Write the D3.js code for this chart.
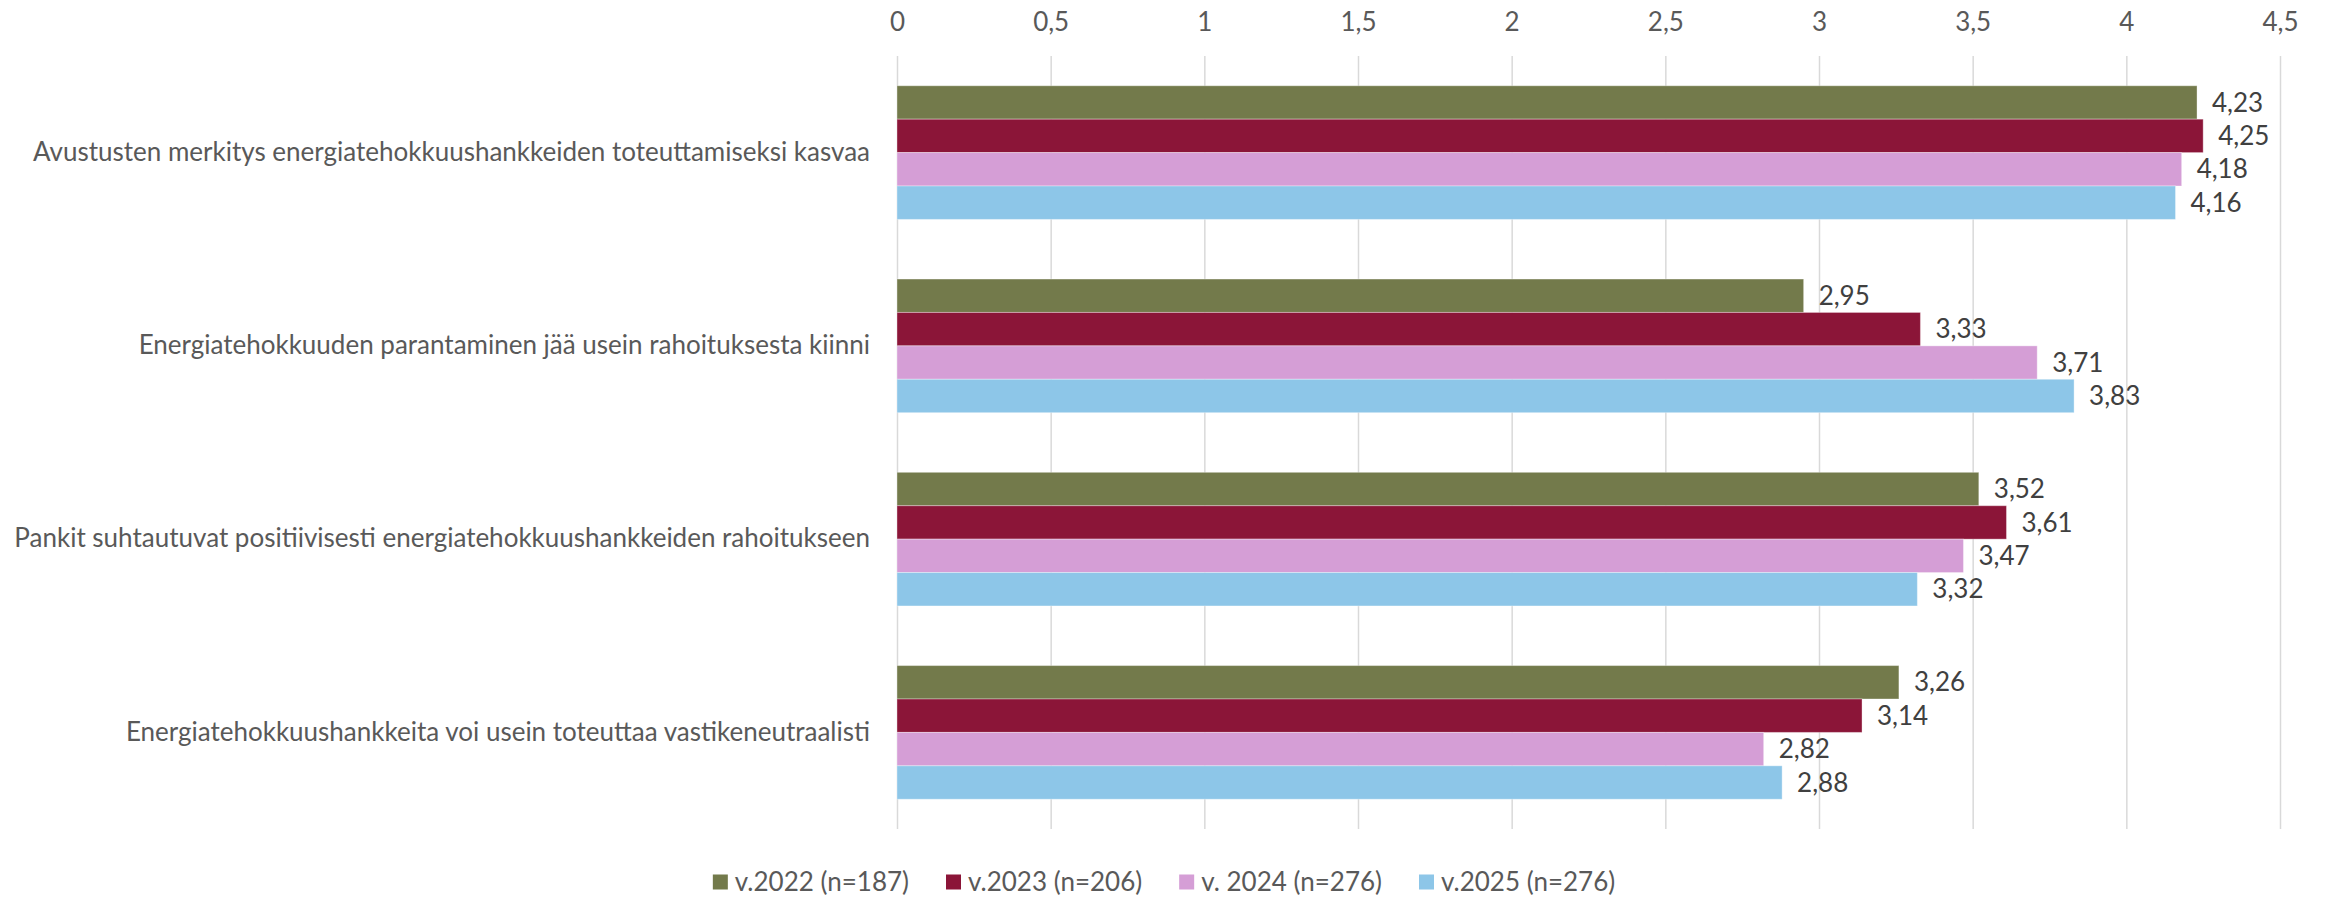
<!DOCTYPE html>
<html>
<head>
<meta charset="utf-8">
<script src="https://cdn.jsdelivr.net/npm/d3@7"></script>
<style>
  html, body { margin: 0; padding: 0; background: #fff; }
  svg text { font-family: Lato, "Liberation Sans", sans-serif; }
</style>
</head>
<body>
<svg id="chart"></svg>
<script>
// Chart data
const categories = [
  "Avustusten merkitys energiatehokkuushankkeiden toteuttamiseksi kasvaa",
  "Energiatehokkuuden parantaminen jää usein rahoituksesta kiinni",
  "Pankit suhtautuvat positiivisesti energiatehokkuushankkeiden rahoitukseen",
  "Energiatehokkuushankkeita voi usein toteuttaa vastikeneutraalisti"
];
const seriesNames = ["v.2022 (n=187)", "v.2023 (n=206)", "v. 2024 (n=276)", "v.2025 (n=276)"];
const v2022 = [4.23, 2.95, 3.52, 3.26];
const v2023 = [4.25, 3.33, 3.61, 3.14];
const v2024 = [4.18, 3.71, 3.47, 2.82];
const v2025 = [4.16, 3.83, 3.32, 2.88];
const xTicks = [0, 0.5, 1, 1.5, 2, 2.5, 3, 3.5, 4, 4.5];
const colors = ["#737a4b", "#8b1538", "#d59ed6", "#8dc6e8"];

const values = [v2022, v2023, v2024, v2025];

// Layout
const W = 2328, H = 897;
const plot = { left: 897, right: 2280, top: 56, bottom: 829 };
const fontSize = 26;

const fi = d3.formatLocale({ decimal: ",", thousands: " ", grouping: [3], currency: ["", " €"] });
const fmtTick = fi.format("~g");
const fmtVal = fi.format(".2f");

const svg = d3.select("#chart").attr("width", W).attr("height", H);

const x = d3.scaleLinear().domain([0, 4.5]).range([plot.left, plot.right]);

const y = d3.scaleBand()
  .domain(categories)
  .range([plot.top, plot.bottom])
  .paddingInner(0.3085)
  .paddingOuter(0.154);

const ySub = d3.scaleBand().domain(seriesNames).range([0, y.bandwidth()]);

// Top axis with gridlines
const xAxis = svg.append("g")
  .attr("transform", `translate(0,${plot.top})`)
  .call(d3.axisTop(x).tickValues(xTicks).tickFormat(fmtTick)
    .tickSize(-(plot.bottom - plot.top)).tickPadding(25));
xAxis.select(".domain").remove();
xAxis.selectAll("line").attr("stroke", "#d9d9d9").attr("stroke-width", 1.5);
xAxis.selectAll("text")
  .attr("fill", "#595959")
  .style("font-size", fontSize + "px");

// Category axis
const yAxis = svg.append("g")
  .attr("transform", `translate(${plot.left},0)`)
  .call(d3.axisLeft(y).tickSize(0).tickPadding(27));
yAxis.select(".domain").remove();
yAxis.selectAll("text")
  .attr("fill", "#595959")
  .style("font-size", fontSize + "px");

// Bars
const rows = [];
categories.forEach((c, i) => {
  seriesNames.forEach((s, j) => {
    rows.push({ cat: c, series: s, value: values[j][i], color: colors[j] });
  });
});

const groups = svg.append("g");
groups.selectAll("rect")
  .data(rows)
  .enter()
  .append("rect")
  .attr("x", x(0))
  .attr("y", d => y(d.cat) + ySub(d.series))
  .attr("width", d => x(d.value) - x(0))
  .attr("height", ySub.bandwidth())
  .attr("fill", d => d.color)
  .attr("stroke", "#ffffff")
  .attr("stroke-opacity", 0.35)
  .attr("stroke-width", 1);

// Value labels
groups.selectAll("text")
  .data(rows)
  .enter()
  .append("text")
  .attr("x", d => x(d.value) + 15)
  .attr("y", d => y(d.cat) + ySub(d.series) + ySub.bandwidth() / 2)
  .attr("dy", "0.35em")
  .attr("fill", "#404040")
  .style("font-size", fontSize + "px")
  .text(d => fmtVal(d.value));

// Legend (centered under the chart)
const legend = svg.append("g").attr("transform", `translate(0,882)`);
const items = legend.selectAll("g")
  .data(seriesNames)
  .enter()
  .append("g");
items.append("rect")
  .attr("width", 15)
  .attr("height", 15)
  .attr("y", -7.5)
  .attr("fill", (d, i) => colors[i]);
items.append("text")
  .attr("x", 22)
  .attr("dy", "0.35em")
  .attr("fill", "#595959")
  .style("font-size", fontSize + "px")
  .text(d => d);

let offset = 0;
const widths = [];
items.each(function () {
  const w = 22 + this.querySelector("text").getComputedTextLength();
  widths.push(w);
});
const gap = 37;
const total = d3.sum(widths) + gap * (widths.length - 1);
offset = W / 2 - total / 2;
items.attr("transform", (d, i) => {
  const t = `translate(${offset},0)`;
  offset += widths[i] + gap;
  return t;
});
</script>
</body>
</html>
